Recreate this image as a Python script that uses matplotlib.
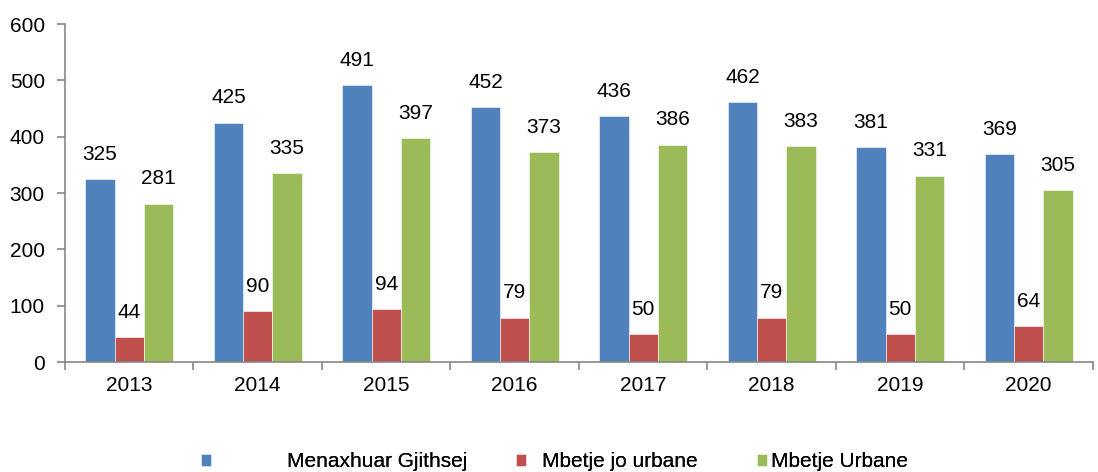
import matplotlib.pyplot as plt
import numpy as np

plt.rcParams['font.family'] = ['Liberation Sans', 'DejaVu Sans']

years = ['2013', '2014', '2015', '2016', '2017', '2018', '2019', '2020']
total = [325, 425, 491, 452, 436, 462, 381, 369]
rural = [44, 90, 94, 79, 50, 79, 50, 64]
urban = [281, 335, 397, 373, 386, 383, 331, 305]

series = [('Menaxhuar Gjithsej', total, '#4F81BD'),
          ('Mbetje jo urbane', rural, '#C0504D'),
          ('Mbetje Urbane', urban, '#9BBB59')]

FS = 15

fig = plt.figure(figsize=(10.98, 4.72), dpi=100)
ax = fig.add_axes([0.0592, 0.233, 0.9362, 0.716])

x = np.arange(len(years))
w = 0.228
handles = []
for i, (name, vals, col) in enumerate(series):
    pos = x + (i - 1) * w
    b = ax.bar(pos, vals, w, color=col, label=name, edgecolor='white', linewidth=0.4)
    handles.append(b)
    for px, v in zip(pos, vals):
        ax.annotate(str(v), (px, v), xytext=(0, 11), textcoords='offset points',
                    ha='center', va='bottom', fontsize=FS)

ax.set_xlim(-0.5, len(years) - 0.5)
ax.set_ylim(0, 600)
ax.set_yticks(range(0, 601, 100))
ax.set_xticks(x)
ax.set_xticklabels(years)
ax.set_xticks(np.arange(-0.5, len(years), 1), minor=True)
ax.tick_params(axis='x', which='major', length=0, labelsize=FS, pad=10)
ax.tick_params(axis='x', which='minor', length=6, color='#868686', width=1.2)
ax.tick_params(axis='y', length=6, color='#868686', width=1.2, labelsize=FS, pad=8.5)
for s in ['top', 'right']:
    ax.spines[s].set_visible(False)
for s in ['left', 'bottom']:
    ax.spines[s].set_color('#868686')
    ax.spines[s].set_linewidth(1.2)

# legend entries placed separately to keep the original spacing
leg_x = [201, 516, 757]
leg_gap = [3.65, 0.77, 0.2]
for h, (name, _, _), lx, gap in zip(handles, series, leg_x, leg_gap):
    lg = fig.legend([h], [name], loc='center left', bbox_to_anchor=(lx / 1098, 0.022),
                    frameon=False, fontsize=FS, handlelength=0.48, handleheight=0.48,
                    handletextpad=gap, borderpad=0, borderaxespad=0)
    fig.add_artist(lg)

fig.savefig('out.png', dpi=100)
